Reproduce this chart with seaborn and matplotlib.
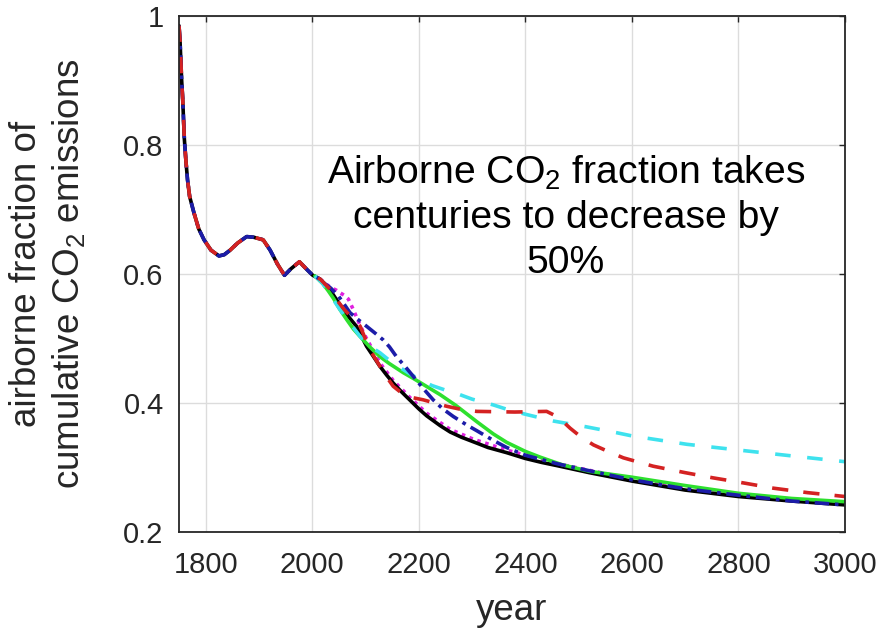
import numpy as np
import pandas as pd
import matplotlib
matplotlib.use("Agg")
import matplotlib.pyplot as plt
import seaborn as sns

# Shared historical airborne fraction (1750-2022)
hist_years = [1750, 1752, 1755, 1757, 1760, 1763, 1766, 1770, 1778, 1787, 1797,
              1810, 1825, 1835, 1846, 1860, 1877, 1890, 1908, 1921, 1935, 1948,
              1960, 1976, 1990, 2001, 2015, 2022]
hist_frac = [0.985, 0.960, 0.900, 0.870, 0.810, 0.775, 0.746, 0.720, 0.695, 0.670, 0.653,
             0.637, 0.628, 0.630, 0.637, 0.648, 0.658, 0.657, 0.653, 0.637, 0.615, 0.598,
             0.608, 0.619, 0.607, 0.598, 0.592, 0.586]

# Future scenarios
black_years = [2033, 2045, 2058, 2070, 2083, 2102, 2115, 2127, 2140, 2152, 2168, 2184,
               2200, 2215, 2240, 2259, 2280, 2302, 2330, 2365, 2400, 2430, 2459, 2520,
               2600, 2700, 2800, 2900, 3000]
black_frac = [0.576, 0.561, 0.545, 0.532, 0.519, 0.488, 0.472, 0.457, 0.443, 0.431, 0.417,
              0.404, 0.391, 0.380, 0.365, 0.355, 0.347, 0.340, 0.331, 0.323, 0.314, 0.308,
              0.303, 0.292, 0.279, 0.265, 0.255, 0.248, 0.242]

magenta_years = [2015, 2025, 2035, 2045, 2052, 2060, 2068, 2077, 2088, 2100, 2127, 2152,
                 2184, 2215, 2259, 2302, 2365, 2459, 2600, 2800, 3000]
magenta_frac = [0.592, 0.585, 0.579, 0.575, 0.571, 0.567, 0.561, 0.545, 0.524, 0.503, 0.462,
                0.435, 0.408, 0.384, 0.359, 0.344, 0.327, 0.306, 0.282, 0.258, 0.243]

green_years = [2005, 2020, 2030, 2040, 2052, 2065, 2077, 2090, 2108, 2127, 2145, 2171,
               2190, 2208, 2240, 2270, 2309, 2340, 2365, 2400, 2428, 2470, 2521,
               2600, 2700, 2800, 2900, 3000]
green_frac = [0.597, 0.585, 0.574, 0.562, 0.545, 0.529, 0.515, 0.503, 0.487, 0.472, 0.461,
              0.447, 0.438, 0.429, 0.413, 0.396, 0.371, 0.352, 0.339, 0.325, 0.316,
              0.304, 0.294, 0.285, 0.272, 0.260, 0.252, 0.247]

cyan_years = [2005, 2020, 2035, 2052, 2070, 2090, 2110, 2127, 2145, 2157, 2180, 2200,
              2225, 2250, 2277, 2300, 2340, 2370, 2403, 2453, 2515, 2571, 2600, 2703,
              2801, 2900, 3000]
cyan_frac = [0.597, 0.585, 0.566, 0.545, 0.525, 0.503, 0.487, 0.478, 0.466, 0.459, 0.447,
             0.437, 0.427, 0.420, 0.413, 0.406, 0.397, 0.389, 0.382, 0.372, 0.363, 0.354,
             0.349, 0.336, 0.327, 0.318, 0.309]

blue_years = [2035, 2050, 2071, 2085, 2102, 2120, 2133, 2145, 2158, 2175, 2190, 2210,
              2227, 2245, 2265, 2290, 2309, 2340, 2365, 2400, 2459, 2520, 2600, 2700,
              2800, 2900, 3000]
blue_frac = [0.578, 0.565, 0.540, 0.530, 0.519, 0.507, 0.498, 0.487, 0.472, 0.456, 0.441,
             0.421, 0.405, 0.391, 0.379, 0.366, 0.357, 0.342, 0.331, 0.319, 0.306, 0.295,
             0.281, 0.267, 0.257, 0.248, 0.242]

red_years = [2035, 2046, 2060, 2075, 2090, 2108, 2127, 2140, 2152, 2170, 2190, 2208,
             2230, 2252, 2280, 2309, 2380, 2440, 2462, 2484, 2505, 2528, 2555, 2584,
             2640, 2700, 2752, 2810, 2865, 2930, 3000]
red_frac = [0.575, 0.560, 0.545, 0.532, 0.519, 0.483, 0.457, 0.440, 0.426, 0.414, 0.408,
            0.405, 0.400, 0.395, 0.390, 0.387, 0.386, 0.387, 0.378, 0.361, 0.347, 0.335,
            0.325, 0.315, 0.302, 0.292, 0.284, 0.276, 0.268, 0.261, 0.255]

x_ticks = [1800, 2000, 2200, 2400, 2600, 2800, 3000]
y_ticks = [0.2, 0.4, 0.6, 0.8, 1.0]
y_tick_labels = ["0.2", "0.4", "0.6", "0.8", "1"]

sns.set_theme(style="white")
plt.rcParams["font.family"] = ["Liberation Sans", "DejaVu Sans"]
plt.rcParams["mathtext.default"] = "regular"

fig = plt.figure(figsize=(8.84, 6.34), dpi=100)
ax = fig.add_axes([179 / 884, 102 / 634, 666 / 884, 516 / 634])

LW = 2.6
series = [
    ("magenta", magenta_years, magenta_frac, (0, (1, 1.3)), "#e020e0"),
    ("black", hist_years + black_years, hist_frac + black_frac, "-", "#000000"),
    ("green", green_years, green_frac, "-", "#2ee02e"),
    ("cyan", cyan_years, cyan_frac, (0, (4.3, 4.6)), "#3ee2ee"),
    ("blue", hist_years + blue_years, hist_frac + blue_frac, (0, (4, 1.6, 1, 1.6)), "#1c1ca8"),
    ("red", hist_years + red_years, hist_frac + red_frac, (0, (4.5, 4.2)), "#d42222"),
]

for name, yrs, frac, ls, col in series:
    df = pd.DataFrame({"year": yrs, "frac": frac})
    sns.lineplot(data=df, x="year", y="frac", ax=ax, color=col, linestyle=ls,
                 linewidth=LW, sort=False, estimator=None)

ax.set_xlim(1750, 3000)
ax.set_ylim(0.2, 1.0)
ax.set_xticks(x_ticks)
ax.set_xticklabels([str(t) for t in x_ticks])
ax.set_yticks(y_ticks)
ax.set_yticklabels(y_tick_labels)

ax.grid(True, color="#dcdcdc", linewidth=1.0)
ax.set_axisbelow(True)
for s in ax.spines.values():
    s.set_visible(True)
    s.set_color("#262626")
    s.set_linewidth(1.3)

ax.tick_params(axis="both", which="both", direction="in", length=4, width=1.0,
               colors="#262626", labelsize=21, top=True, right=True,
               labeltop=False, labelright=False)
ax.tick_params(axis="x", pad=14)
ax.tick_params(axis="y", pad=11)

ax.set_xlabel("year", fontsize=26.5, color="#262626")
ax.set_ylabel("airborne fraction of\ncumulative CO$_2$ emissions", fontsize=26.5,
              color="#262626", linespacing=1.2)
ax.xaxis.set_label_coords(0.5, -0.118)
ax.yaxis.set_label_coords(-0.138, 0.5)

fig.text(566 / 884, 417 / 634,
         "Airborne CO$_2$ fraction takes\ncenturies to decrease by\n50%",
         ha="center", va="center", multialignment="center", fontsize=28.2,
         color="black", linespacing=1.3)

fig.savefig("out.png", dpi=100, facecolor="white")
